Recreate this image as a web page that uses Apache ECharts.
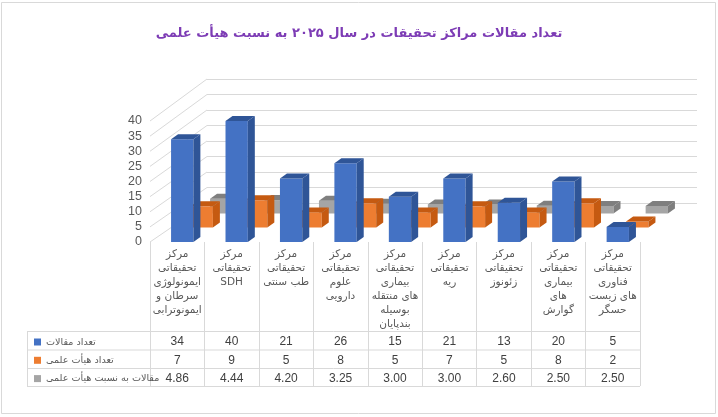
<!DOCTYPE html>
<html><head><meta charset="utf-8">
<script src="https://cdn.jsdelivr.net/npm/echarts@6/dist/echarts.min.js"></script>
<style>html,body{margin:0;padding:0;background:#fff}#c{width:718px;height:417px}</style>
</head><body><div id="c"></div>
<script>
const categories = [
  'مرکز\nتحقیقاتی\nایمونولوژی\nسرطان و\nایمونوترابی',
  'مرکز\nتحقیقاتی\nSDH',
  'مرکز\nتحقیقاتی\nطب سنتی',
  'مرکز\nتحقیقاتی\nعلوم\nدارویی',
  'مرکز\nتحقیقاتی\nبیماری\nهای منتقله\nبوسیله\nبندپایان',
  'مرکز\nتحقیقاتی\nریه',
  'مرکز\nتحقیقاتی\nزئونوز',
  'مرکز\nتحقیقاتی\nبیماری\nهای\nگوارش',
  'مرکز\nتحقیقاتی\nفناوری\nهای زیست\nحسگر'
];
const articles = [34, 40, 21, 26, 15, 21, 13, 20, 5];
const faculty = [7, 9, 5, 8, 5, 7, 5, 8, 2];
const ratio = [4.86, 4.44, 4.20, 3.25, 3.00, 3.00, 2.60, 2.50, 2.50];
const seriesNames = ['تعداد مقالات', 'تعداد هیأت علمی', 'مقالات به نسبت هیأت علمی'];
const titleText = 'تعداد مقالات مراکز تحقیقات در سال ۲۰۲۵ به نسبت هیأت علمی';

const FRONT = {left: 150, right: 78, top: 121, bottom: 175};
const BACK = {left: 207, right: 21, top: 79, bottom: 214};
const TXT = '#595959';

function box(dx, dy, front, dark) {
  return function (params, api) {
    const i = api.value(0), v = api.value(1);
    const b = api.coord([i, 0]), t = api.coord([i, v]);
    const band = api.size([1, 0])[0];
    const w = band * 0.41;
    const x0 = b[0] + dx - w / 2, x1 = x0 + w;
    const yb = b[1] + dy, yt = t[1] + dy;
    const ox = 7, oy = -5;
    return {type: 'group', children: [
      {type: 'polygon', shape: {points: [[x0, yb], [x1, yb], [x1, yt], [x0, yt]]}, style: {fill: front}},
      {type: 'polygon', shape: {points: [[x1, yb], [x1 + ox, yb + oy], [x1 + ox, yt + oy], [x1, yt]]}, style: {fill: dark}},
      {type: 'polygon', shape: {points: [[x0, yt], [x1, yt], [x1 + ox, yt + oy], [x0 + ox, yt + oy]]}, style: {fill: dark}}
    ]};
  };
}
const toData = arr => arr.map((v, i) => [i, v]);

function rowAxis(arr, off, fmt) {
  return {
    type: 'category', gridIndex: 0, position: 'bottom', offset: off, data: categories,
    axisLine: {show: false}, axisTick: {show: false}, splitLine: {show: false},
    axisLabel: {interval: 0, margin: 0, color: '#404040', fontSize: 12, lineHeight: 14,
      fontFamily: 'Liberation Sans, DejaVu Sans', formatter: (val, idx) => fmt(arr[idx])}
  };
}

const chart = echarts.init(document.getElementById('c'));
const option = {
  animation: false,
  backgroundColor: '#fff',
  title: {text: titleText, left: 'center', top: 22,
    textStyle: {color: '#7d3cb5', fontSize: 13, fontWeight: 'bold', fontFamily: 'DejaVu Sans'}},
  legend: {orient: 'vertical', left: 29, top: 330, itemWidth: 7, itemHeight: 7, itemGap: 4.3,
    icon: 'rect', data: seriesNames,
    textStyle: {color: TXT, fontSize: 9.6, lineHeight: 14, fontFamily: 'DejaVu Sans'}},
  grid: [
    Object.assign({containLabel: false}, FRONT),
    Object.assign({containLabel: false}, BACK)
  ],
  xAxis: [
    {type: 'category', gridIndex: 0, data: categories, position: 'bottom',
      axisLine: {show: false},
      axisTick: {show: true, length: 144, lineStyle: {color: '#d9d9d9'}},
      axisLabel: {interval: 0, margin: 5, color: TXT, fontSize: 10.5, lineHeight: 14, fontFamily: 'DejaVu Sans'},
      splitLine: {show: false}},
    {type: 'category', gridIndex: 1, data: categories, show: false},
    rowAxis(articles, 93, v => String(v)),
    rowAxis(faculty, 111.3, v => String(v)),
    rowAxis(ratio, 129.6, v => v.toFixed(2))
  ],
  yAxis: [
    {type: 'value', gridIndex: 0, min: 0, max: 40, interval: 5,
      axisLine: {show: false}, axisTick: {show: false}, splitLine: {show: false},
      axisLabel: {color: TXT, fontSize: 12.5, margin: 8, fontFamily: 'Liberation Sans'}},
    {type: 'value', gridIndex: 1, min: 0, max: 40, interval: 5,
      axisLine: {show: false}, axisTick: {show: false}, axisLabel: {show: false},
      splitLine: {show: true, lineStyle: {color: '#d9d9d9', width: 1}}}
  ],
  series: [
    {name: seriesNames[0], type: 'custom', xAxisIndex: 0, yAxisIndex: 0, z: 5,
      itemStyle: {color: '#4472C4'}, encode: {x: 0, y: 1},
      renderItem: box(5, 0, '#4472C4', '#2F5597'), data: toData(articles)},
    {name: seriesNames[1], type: 'custom', xAxisIndex: 0, yAxisIndex: 0, z: 4,
      itemStyle: {color: '#ED7D31'}, encode: {x: 0, y: 1},
      renderItem: box(24.5, -14.5, '#ED7D31', '#C55A11'), data: toData(faculty)},
    {name: seriesNames[2], type: 'custom', xAxisIndex: 0, yAxisIndex: 0, z: 3,
      itemStyle: {color: '#A5A5A5'}, encode: {x: 0, y: 1},
      renderItem: box(44, -28.5, '#A5A5A5', '#7F7F7F'), data: toData(ratio)}
  ]
};
chart.setOption(option);

// side wall lines and table grid
const g = [];
g.push({type: 'rect', z: -10, shape: {x: 1.5, y: 2.5, width: 714, height: 411},
  style: {fill: 'none', stroke: '#d9d9d9', lineWidth: 1}});
for (let v = 0; v <= 40; v += 5) {
  const yf = chart.convertToPixel({yAxisIndex: 0}, v);
  const yb = chart.convertToPixel({yAxisIndex: 1}, v);
  g.push({type: 'line', z: 0, shape: {x1: FRONT.left, y1: yf, x2: BACK.left, y2: yb},
    style: {stroke: '#d9d9d9', lineWidth: 1}});
}
const tableRight = 718 - FRONT.right;
[331.5, 350, 368.5, 386.5].forEach(y => {
  g.push({type: 'line', shape: {x1: 27, y1: y, x2: tableRight, y2: y}, style: {stroke: '#d9d9d9', lineWidth: 1}});
});
g.push({type: 'line', shape: {x1: 27.5, y1: 331.5, x2: 27.5, y2: 386.5}, style: {stroke: '#d9d9d9', lineWidth: 1}});
chart.setOption({graphic: g});
</script></body></html>
